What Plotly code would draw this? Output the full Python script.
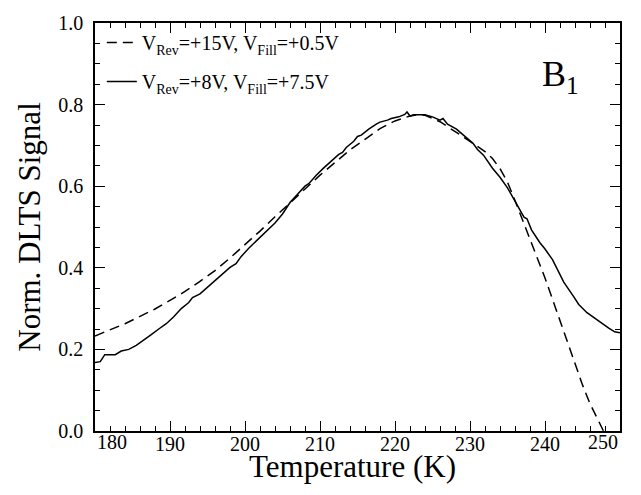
import plotly.graph_objects as go

# ---- data ----
temp_solid = [180.0, 180.7, 181.3, 182.7, 183.5, 184.5, 185.5, 186.5, 187.5, 188.5,
              189.5, 190.5, 191.5, 192.5, 193.0, 194.0, 195.0, 196.0, 197.0, 198.0,
              198.8, 199.5, 200.5, 201.5, 202.5, 203.5, 204.0, 205.0, 206.0, 207.0,
              208.0, 208.5, 209.5, 210.5, 211.5, 212.5, 213.0, 213.5, 214.5, 215.0,
              215.5, 216.5, 217.5, 218.0, 219.0, 219.5, 220.5, 221.3, 221.6, 222.0,
              222.5, 224.0, 225.0, 225.6, 226.0, 226.4, 227.0, 228.2, 229.0, 230.4,
              231.0, 231.8, 233.0, 234.0, 235.0, 236.0, 236.6, 237.2, 237.6, 238.2,
              239.3, 240.0, 241.0, 241.6, 242.5, 243.8, 244.5, 245.6, 246.5, 247.5,
              248.5, 249.3, 250.0]
sig_solid = [0.168, 0.170, 0.187, 0.187, 0.196, 0.200, 0.210, 0.222, 0.236, 0.250,
             0.263, 0.280, 0.300, 0.315, 0.327, 0.336, 0.352, 0.370, 0.386, 0.401,
             0.410, 0.428, 0.448, 0.466, 0.483, 0.500, 0.510, 0.532, 0.560, 0.580,
             0.600, 0.606, 0.627, 0.645, 0.662, 0.678, 0.683, 0.695, 0.710, 0.722,
             0.725, 0.740, 0.752, 0.757, 0.762, 0.766, 0.770, 0.776, 0.782, 0.772,
             0.775, 0.775, 0.770, 0.764, 0.762, 0.766, 0.752, 0.740, 0.728, 0.705,
             0.690, 0.676, 0.644, 0.622, 0.596, 0.562, 0.545, 0.524, 0.520, 0.493,
             0.462, 0.446, 0.420, 0.398, 0.365, 0.330, 0.310, 0.290, 0.278, 0.264,
             0.252, 0.243, 0.241]

temp_dash = [180, 182, 184, 186, 188, 190, 192, 194, 196, 198, 200, 202, 204, 206,
             208, 210, 212, 214, 216, 218, 220, 222, 223, 224, 226, 228, 230, 232,
             233, 234, 235, 236, 237, 238, 239, 240, 241, 242, 243, 244, 245, 246,
             247, 247.8]
sig_dash = [0.233, 0.248, 0.263, 0.281, 0.299, 0.320, 0.342, 0.367, 0.393, 0.424,
            0.456, 0.490, 0.525, 0.560, 0.593, 0.627, 0.657, 0.689, 0.715, 0.741,
            0.760, 0.772, 0.775, 0.774, 0.758, 0.735, 0.710, 0.685, 0.668, 0.643,
            0.610, 0.565, 0.518, 0.470, 0.423, 0.375, 0.323, 0.270, 0.216, 0.163,
            0.113, 0.067, 0.028, 0.000]

label_dash = "V<sub>Rev</sub>=+15V, V<sub>Fill</sub>=+0.5V"
label_solid = "V<sub>Rev</sub>=+8V, V<sub>Fill</sub>=+7.5V"

x_ticks = [180, 190, 200, 210, 220, 230, 240, 250]
x_ticklabels = ["180", "190", "200", "210", "220", "230", "240", "250"]
y_ticks = [0.0, 0.2, 0.4, 0.6, 0.8, 1.0]
y_ticklabels = ["0.0", "0.2", "0.4", "0.6", "0.8", "1.0"]

x_title = "Temperature (K)"
y_title = "Norm. DLTS Signal"
panel_label = "B<sub>1</sub>"

FONT = "Liberation Serif"

fig = go.Figure()
fig.add_trace(go.Scatter(x=temp_dash, y=sig_dash, mode="lines", name=label_dash,
                         legendgroup="a",
                         line=dict(color="black", width=1.5, dash="10px,6px")))
fig.add_trace(go.Scatter(x=temp_solid, y=sig_solid, mode="lines", name=label_solid,
                         legendgroup="b",
                         line=dict(color="black", width=1.5)))

# end tick labels aligned inside the frame, as in the reference
inner_text = [t if v not in (x_ticks[0], x_ticks[-1]) else "" for v, t in zip(x_ticks, x_ticklabels)]

axis_common = dict(showline=True, linecolor="black", linewidth=1.5, mirror="ticks",
                   ticks="inside", ticklen=10, tickwidth=1, tickcolor="black",
                   showgrid=False, zeroline=False,
                   tickfont=dict(family=FONT, size=20, color="black"))

fig.update_xaxes(range=[180, 250], tickvals=x_ticks, ticktext=inner_text,
                 minor=dict(dtick=2, ticklen=5, ticks="inside", tickcolor="black"),
                 ticklabelstandoff=-6,
                 **axis_common)
fig.update_yaxes(range=[0, 1.0], tickvals=y_ticks, ticktext=y_ticklabels,
                 minor=dict(dtick=0.05, ticklen=5, ticks="inside", tickcolor="black"),
                 title=dict(text=y_title, font=dict(family=FONT, size=31, color="black"),
                            standoff=8),
                 ticklabelstandoff=6,
                 **axis_common)

fig.add_annotation(x=x_ticks[0], y=0, xref="x", yref="paper", text=x_ticklabels[0],
                   xanchor="left", yanchor="top", yshift=2, showarrow=False,
                   font=dict(family=FONT, size=20, color="black"))
fig.add_annotation(x=x_ticks[-1], y=0, xref="x", yref="paper", text=x_ticklabels[-1],
                   xanchor="right", yanchor="top", yshift=2, showarrow=False,
                   font=dict(family=FONT, size=20, color="black"))
fig.add_annotation(x=0.49, y=0, xref="paper", yref="paper", text=x_title,
                   xanchor="center", yanchor="middle", yshift=-35, showarrow=False,
                   font=dict(family=FONT, size=31, color="black"))
fig.add_annotation(x=242, y=0.87, xref="x", yref="y", text=panel_label,
                   showarrow=False, font=dict(family=FONT, size=36, color="black"))

fig.update_layout(
    width=641, height=495,
    margin=dict(l=95, r=21, t=15, b=64),
    paper_bgcolor="white", plot_bgcolor="white",
    font=dict(family=FONT, color="black"),
    showlegend=True,
    legend=dict(x=0.013, y=1, xanchor="left", yanchor="top", bgcolor="rgba(0,0,0,0)",
                font=dict(family=FONT, size=20, color="black"),
                tracegroupgap=10, itemwidth=30),
)

fig.write_html("out.html")
